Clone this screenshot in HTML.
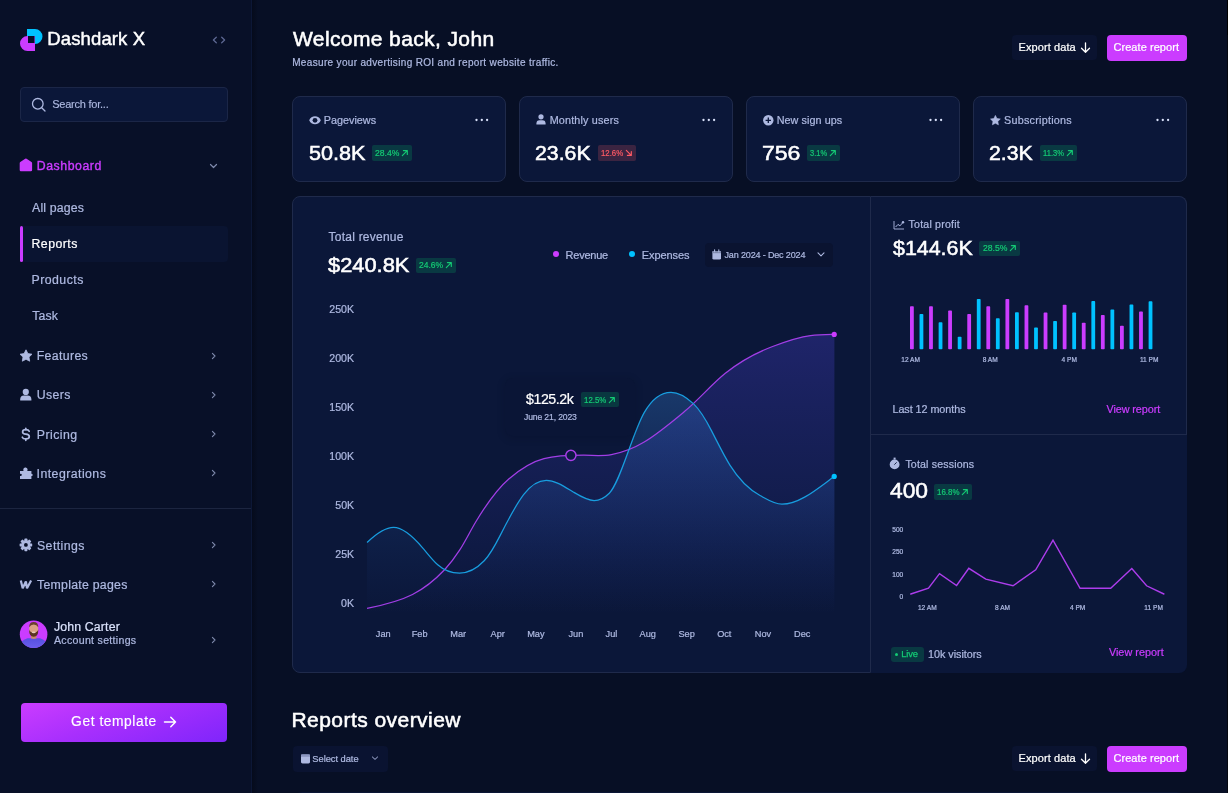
<!DOCTYPE html><html><head><meta charset="utf-8"><title>Dashdark X</title><style>
*{margin:0;padding:0;box-sizing:border-box}
html,body{width:1228px;height:793px;overflow:hidden;background:#081028}
body{position:relative;font-family:"Liberation Sans",sans-serif}
.t{position:absolute;white-space:nowrap;-webkit-text-stroke-width:0.22px}
.r{position:absolute;display:block}
#root{position:absolute;left:0;top:0;width:1228px;height:793px;will-change:transform}
</style></head><body><div id="root">
<div class="r" style="left:252px;top:0px;width:976px;height:793px;background:#070f25"></div>
<div class="r" style="left:252px;top:0px;width:6px;height:793px;background:linear-gradient(to right,rgba(3,6,16,0.45),rgba(3,6,16,0))"></div>
<div class="r" style="left:251px;top:0px;width:1.2px;height:793px;background:#0c1736"></div>
<svg class="r" style="left:18px;top:27px;" width="28" height="27" viewBox="0 0 28 27"><path d="M9,2 H17 A7.5,7.5 0 0 1 17,17 H9 Z" fill="#00C2FF"/><path d="M17,9 H9.5 A7.5,7.5 0 0 0 9.5,24 H17 Z" fill="#CB3CFF"/><rect x="10" y="9" width="6.5" height="7" fill="#081028"/></svg>
<div class="t " style="left:47.32px;top:27.00px;font-size:18.5px;line-height:23px;color:#fff;font-weight:400;letter-spacing:0.122px;-webkit-text-stroke:0.45px #fff;">Dashdark X</div>
<svg class="r" style="left:210px;top:35px;" width="18" height="10" viewBox="0 0 18 10"><path d="M6.3,2.3 L3.4,5 L6.3,7.7 M11.7,2.3 L14.6,5 L11.7,7.7" stroke="#5d6893" stroke-width="1.3" fill="none" stroke-linecap="round" stroke-linejoin="round"/></svg>
<div class="r" style="left:20px;top:87px;width:208px;height:35px;background:#0B1739;border:1px solid #1b2647;border-radius:4px"></div>
<svg class="r" style="left:31px;top:97px;" width="16" height="16" viewBox="0 0 16 16"><circle cx="6.8" cy="6.8" r="5.3" stroke="#AEB9E1" stroke-width="1.3" fill="none"/><path d="M10.7,10.7 L14,14" stroke="#AEB9E1" stroke-width="1.3" stroke-linecap="round"/></svg>
<div class="t " style="left:52.26px;top:97.00px;font-size:11px;line-height:14px;color:#AEB9E1;font-weight:400;letter-spacing:-0.238px;-webkit-text-stroke:0.15px #AEB9E1;">Search for...</div>
<svg class="r" style="left:19px;top:158px;" width="14" height="14" viewBox="0 0 14 14"><path d="M0.7,5.3 Q0.7,4.6 1.3,4.1 L6.2,0.7 Q6.9,0.2 7.6,0.7 L12.5,4.1 Q13.1,4.6 13.1,5.3 L13.1,12 Q13.1,13.2 11.9,13.2 L1.9,13.2 Q0.7,13.2 0.7,12 Z" fill="#CB3CFF"/></svg>
<div class="t " style="left:36.72px;top:158.50px;font-size:12.3px;line-height:15px;color:#CB3CFF;font-weight:400;letter-spacing:0.556px;-webkit-text-stroke:0.4px #CB3CFF;">Dashboard</div>
<svg class="r" style="left:208px;top:162px;" width="10" height="8" viewBox="0 0 10 8"><path d="M2.5,2.5 L5.5,5.5 L8.5,2.5" stroke="#7E89AC" stroke-width="1.2" fill="none" stroke-linecap="round" stroke-linejoin="round"/></svg>
<div class="t " style="left:32.10px;top:200.50px;font-size:12.3px;line-height:15px;color:#AEB9E1;font-weight:400;letter-spacing:0.139px;">All pages</div>
<div class="r" style="left:20px;top:226px;width:208px;height:36px;background:#0a1431;border-radius:4px"></div>
<div class="r" style="left:20px;top:226px;width:2.5px;height:36px;background:#CB3CFF;border-radius:2px"></div>
<div class="t " style="left:31.52px;top:236.50px;font-size:12.3px;line-height:15px;color:#fff;font-weight:400;letter-spacing:0.467px;">Reports</div>
<div class="t " style="left:31.52px;top:272.50px;font-size:12.3px;line-height:15px;color:#AEB9E1;font-weight:400;letter-spacing:0.467px;">Products</div>
<div class="t " style="left:32.25px;top:308.50px;font-size:12.3px;line-height:15px;color:#AEB9E1;font-weight:400;letter-spacing:0.128px;">Task</div>
<svg class="r" style="left:19px;top:348.8px;" width="14" height="14" viewBox="0 0 14 14"><path d="M7,0.8 L8.9,4.6 L13,5.2 L10,8.1 L10.7,12.2 L7,10.3 L3.3,12.2 L4,8.1 L1,5.2 L5.1,4.6 Z" fill="#AEB9E1" stroke="#AEB9E1" stroke-width="0.8" stroke-linejoin="round"/></svg>
<div class="t " style="left:36.72px;top:348.50px;font-size:12.3px;line-height:15px;color:#AEB9E1;font-weight:400;letter-spacing:0.353px;">Features</div>
<svg class="r" style="left:209.6px;top:350.8px;" width="8" height="10" viewBox="0 0 8 10"><path d="M2.4,2.4 L5,5 L2.4,7.6" stroke="#7E89AC" stroke-width="1.1" fill="none" stroke-linecap="round" stroke-linejoin="round"/></svg>
<svg class="r" style="left:19px;top:388px;" width="14" height="14" viewBox="0 0 14 14"><circle cx="6.8" cy="3.9" r="3.1" fill="#AEB9E1"/><path d="M1.2,11.5 Q1.2,7.6 5,7.6 L8.6,7.6 Q12.4,7.6 12.4,11.5 L12.4,12.6 L1.2,12.6 Z" fill="#AEB9E1"/></svg>
<div class="t " style="left:36.84px;top:387.50px;font-size:12.3px;line-height:15px;color:#AEB9E1;font-weight:400;letter-spacing:0.357px;">Users</div>
<svg class="r" style="left:209.6px;top:390px;" width="8" height="10" viewBox="0 0 8 10"><path d="M2.4,2.4 L5,5 L2.4,7.6" stroke="#7E89AC" stroke-width="1.1" fill="none" stroke-linecap="round" stroke-linejoin="round"/></svg>
<svg class="r" style="left:19px;top:427px;" width="14" height="15" viewBox="0 0 14 15"><path d="M10.2,4.3 Q9.6,2.6 6.8,2.6 Q3.6,2.6 3.6,4.9 Q3.6,6.8 6.8,7.1 Q10.3,7.4 10.3,9.7 Q10.3,11.9 6.8,11.9 Q4,11.9 3.3,10.2" stroke="#AEB9E1" stroke-width="1.7" fill="none" stroke-linecap="round"/><path d="M6.8,1.3 V2.6 M6.8,11.9 V13.3" stroke="#AEB9E1" stroke-width="1.7" stroke-linecap="round"/></svg>
<div class="t " style="left:36.72px;top:427.50px;font-size:12.3px;line-height:15px;color:#AEB9E1;font-weight:400;letter-spacing:0.481px;">Pricing</div>
<svg class="r" style="left:209.6px;top:429.3px;" width="8" height="10" viewBox="0 0 8 10"><path d="M2.4,2.4 L5,5 L2.4,7.6" stroke="#7E89AC" stroke-width="1.1" fill="none" stroke-linecap="round" stroke-linejoin="round"/></svg>
<svg class="r" style="left:19px;top:466px;" width="14" height="14" viewBox="0 0 14 14"><path d="M1,5 L4.5,5 Q4,3.6 4.6,2.6 Q5.5,1.4 6.8,1.6 Q8.5,2 8.6,3.5 Q8.6,4.3 8.2,5 L12.4,5 L12.4,8 Q13.2,7.6 13.6,8.4 Q14,9.4 13,10 Q12.6,10.1 12.4,10 L12.4,13 L1,13 L1,10 Q2.3,10.4 2.8,9.3 Q3,8.2 2,7.8 Q1.5,7.6 1,7.9 Z" fill="#AEB9E1"/></svg>
<div class="t " style="left:36.59px;top:466.50px;font-size:12.3px;line-height:15px;color:#AEB9E1;font-weight:400;letter-spacing:0.450px;">Integrations</div>
<svg class="r" style="left:209.6px;top:468.3px;" width="8" height="10" viewBox="0 0 8 10"><path d="M2.4,2.4 L5,5 L2.4,7.6" stroke="#7E89AC" stroke-width="1.1" fill="none" stroke-linecap="round" stroke-linejoin="round"/></svg>
<div class="r" style="left:0px;top:508px;width:251px;height:1px;background:#1c2540"></div>
<svg class="r" style="left:19px;top:538px;" width="14" height="14" viewBox="0 0 14 14"><path d="M6.8,0.6 L8.2,0.6 L8.6,2.3 Q9.4,2.6 10.1,3.1 L11.7,2.5 L12.4,3.7 L11.2,4.9 Q11.4,5.8 11.2,6.8 L12.5,8 L11.8,9.2 L10.1,8.7 Q9.4,9.3 8.6,9.6" fill="none"/><g transform="translate(6.9,6.9)"><circle r="4.6" fill="#AEB9E1"/><rect x="-1.5" y="-6.3" width="3" height="3" rx="0.6" fill="#AEB9E1" transform="rotate(0)"/><rect x="-1.5" y="-6.3" width="3" height="3" rx="0.6" fill="#AEB9E1" transform="rotate(45)"/><rect x="-1.5" y="-6.3" width="3" height="3" rx="0.6" fill="#AEB9E1" transform="rotate(90)"/><rect x="-1.5" y="-6.3" width="3" height="3" rx="0.6" fill="#AEB9E1" transform="rotate(135)"/><rect x="-1.5" y="-6.3" width="3" height="3" rx="0.6" fill="#AEB9E1" transform="rotate(180)"/><rect x="-1.5" y="-6.3" width="3" height="3" rx="0.6" fill="#AEB9E1" transform="rotate(225)"/><rect x="-1.5" y="-6.3" width="3" height="3" rx="0.6" fill="#AEB9E1" transform="rotate(270)"/><rect x="-1.5" y="-6.3" width="3" height="3" rx="0.6" fill="#AEB9E1" transform="rotate(315)"/><circle r="1.9" fill="#081028"/></g></svg>
<div class="t " style="left:37.01px;top:538.50px;font-size:12.3px;line-height:15px;color:#AEB9E1;font-weight:400;letter-spacing:0.423px;">Settings</div>
<svg class="r" style="left:209.6px;top:540px;" width="8" height="10" viewBox="0 0 8 10"><path d="M2.4,2.4 L5,5 L2.4,7.6" stroke="#7E89AC" stroke-width="1.1" fill="none" stroke-linecap="round" stroke-linejoin="round"/></svg>
<svg class="r" style="left:19px;top:579px;" width="14" height="11" viewBox="0 0 14 11"><path d="M1.8,1.6 L3.7,9.2 L6.9,2.4 L8,9.2 L12.1,1.6" stroke="#AEB9E1" stroke-width="2.2" fill="none" stroke-linejoin="bevel" stroke-linecap="butt"/></svg>
<div class="t " style="left:37.05px;top:577.50px;font-size:12.3px;line-height:15px;color:#AEB9E1;font-weight:400;letter-spacing:0.267px;">Template pages</div>
<svg class="r" style="left:209.6px;top:579px;" width="8" height="10" viewBox="0 0 8 10"><path d="M2.4,2.4 L5,5 L2.4,7.6" stroke="#7E89AC" stroke-width="1.1" fill="none" stroke-linecap="round" stroke-linejoin="round"/></svg>
<svg class="r" style="left:19px;top:620px;" width="30" height="30" viewBox="0 0 30 30"><defs><clipPath id="av"><circle cx="14.6" cy="14.2" r="13.8"/></clipPath><linearGradient id="sh" x1="0" y1="0" x2="0" y2="1"><stop offset="0" stop-color="#5750e0"/><stop offset="1" stop-color="#6d62f0"/></linearGradient></defs><circle cx="14.6" cy="14.2" r="13.8" fill="#CB3CFF"/><g clip-path="url(#av)"><path d="M-1,30 L0.5,24.5 Q2,20.6 8.5,18.3 L21,18.3 Q27.4,20.6 28.8,24.5 L30.5,30 Z" fill="url(#sh)"/><path d="M12.2,13.5 L17.2,13.5 L17.6,18.3 Q14.7,19.6 11.8,18.3 Z" fill="#c58a6d"/><ellipse cx="14.7" cy="9.3" rx="4.5" ry="6.4" fill="#d9a285"/><path d="M10.1,9.3 Q9.9,16.8 14.7,16.8 Q19.5,16.8 19.3,9.3 Q18.6,12.6 14.7,12.9 Q10.8,12.6 10.1,9.3 Z" fill="#5b3322"/><ellipse cx="14.7" cy="12.4" rx="1.9" ry="0.8" fill="#e6c9b8"/><path d="M10.1,7.2 Q10.1,1.9 14.7,1.9 Q19.3,1.9 19.3,7.2 Q17.6,4.6 14.7,4.6 Q11.8,4.6 10.1,7.2 Z" fill="#6b4030"/></g></svg>
<div class="t " style="left:53.88px;top:619.50px;font-size:12.3px;line-height:15px;color:#D9E1FA;font-weight:400;letter-spacing:0.164px;">John Carter</div>
<div class="t " style="left:54.00px;top:633.50px;font-size:10.6px;line-height:13px;color:#AEB9E1;font-weight:400;letter-spacing:0.294px;">Account settings</div>
<svg class="r" style="left:209.6px;top:635px;" width="8" height="10" viewBox="0 0 8 10"><path d="M2.4,2.4 L5,5 L2.4,7.6" stroke="#7E89AC" stroke-width="1.1" fill="none" stroke-linecap="round" stroke-linejoin="round"/></svg>
<div class="r" style="left:21px;top:703px;width:206px;height:39px;border-radius:4px;background:linear-gradient(160deg,#CB3CFF 0%,#a82ffd 45%,#7F25FB 100%)"></div>
<div class="t " style="left:71.11px;top:713.00px;font-size:13.8px;line-height:17px;color:#fff;font-weight:400;letter-spacing:0.561px;-webkit-text-stroke:0.15px #fff;">Get template</div>
<svg class="r" style="left:162px;top:715px;" width="16" height="14" viewBox="0 0 16 14"><path d="M2.5,7 H13.5 M8.8,2.3 L13.5,7 L8.8,11.7" stroke="#fff" stroke-width="1.5" fill="none" stroke-linecap="round" stroke-linejoin="round"/></svg>
<div class="t " style="left:293.00px;top:25.50px;font-size:21px;line-height:26px;color:#fff;font-weight:400;letter-spacing:0.388px;-webkit-text-stroke:0.55px #fff;">Welcome back, John</div>
<div class="t " style="left:292.20px;top:56.50px;font-size:10px;line-height:12px;color:#AEB9E1;font-weight:400;letter-spacing:0.336px;">Measure your advertising ROI and report website traffic.</div>
<div class="r" style="left:1012px;top:35px;width:85px;height:25px;background:#0A1330;border-radius:4px"></div>
<div class="t " style="left:1018.62px;top:40.00px;font-size:11px;line-height:14px;color:#fff;font-weight:400;letter-spacing:0.076px;">Export data</div>
<svg class="r" style="left:1080px;top:42px;" width="12" height="12" viewBox="0 0 12 12"><path d="M5.5,0.8 V10 M1.5,6.2 L5.5,10.2 L9.5,6.2" stroke="#fff" stroke-width="1.3" fill="none" stroke-linecap="round" stroke-linejoin="round"/></svg>
<div class="r" style="left:1107px;top:35px;width:80px;height:25.5px;background:#CB3CFF;border-radius:4px"></div>
<div class="t " style="left:1113.45px;top:40.00px;font-size:11px;line-height:14px;color:#fff;font-weight:400;letter-spacing:0.063px;">Create report</div>
<div class="r" style="left:292px;top:96px;width:214px;height:86px;background:#0B1739;border:1px solid #1f2a4b;border-radius:8px"></div>
<svg class="r" style="left:309px;top:115.6px;" width="12" height="11" viewBox="0 0 12 11"><path d="M0.2,4.3 C2,-1.1 10,-1.1 11.8,4.3 C10,9.7 2,9.7 0.2,4.3 Z" fill="#AEB9E1"/><circle cx="6" cy="4.3" r="2.4" fill="#0B1739"/></svg>
<div class="t " style="left:323.84px;top:113.50px;font-size:10.8px;line-height:13px;color:#AEB9E1;font-weight:400;">Pageviews</div>
<div class="t " style="left:309.16px;top:139.50px;font-size:21px;line-height:26px;color:#fff;font-weight:400;transform:scaleX(1.0283);transform-origin:0.84px 0;-webkit-text-stroke:0.55px #fff;">50.8K</div>
<div class="r" style="left:371.5px;top:145.2px;width:40.5px;height:15.5px;background:rgba(5,193,104,0.2);border-radius:2px"></div>
<div class="t " style="left:375.09px;top:148.50px;font-size:8.2px;line-height:10px;color:#14CA74;font-weight:400;transform:scaleX(1.0472);transform-origin:0.41px 0;-webkit-text-stroke:0.2px #14CA74;">28.4%</div>
<svg class="r" style="left:401.0px;top:148.75px;" width="8" height="8" viewBox="0 0 8 8"><path d="M1.3,6.6 L6.2,1.7 M2.4,1.6 H6.3 V5.5" stroke="#14CA74" stroke-width="1.15" fill="none" stroke-linecap="round" stroke-linejoin="round"/></svg>
<svg class="r" style="left:475.0px;top:117.5px;" width="14" height="4" viewBox="0 0 14 4"><circle cx="1.5" cy="2" r="1.15" fill="#D9E1FA"/><circle cx="6.8" cy="2" r="1.15" fill="#D9E1FA"/><circle cx="12.1" cy="2" r="1.15" fill="#D9E1FA"/></svg>
<div class="r" style="left:519px;top:96px;width:214px;height:86px;background:#0B1739;border:1px solid #1f2a4b;border-radius:8px"></div>
<svg class="r" style="left:536px;top:114px;" width="12" height="11" viewBox="0 0 12 11"><circle cx="5" cy="2.8" r="2.6" fill="#AEB9E1"/><path d="M0.4,9.6 Q0.4,6.2 3.6,6.2 L6.4,6.2 Q9.6,6.2 9.6,9.6 L9.6,10.4 L0.4,10.4 Z" fill="#AEB9E1"/></svg>
<div class="t " style="left:549.64px;top:113.50px;font-size:10.8px;line-height:13px;color:#AEB9E1;font-weight:400;letter-spacing:0.168px;">Monthly users</div>
<div class="t " style="left:535.45px;top:139.50px;font-size:21px;line-height:26px;color:#fff;font-weight:400;transform:scaleX(1.0138);transform-origin:1.05px 0;-webkit-text-stroke:0.55px #fff;">23.6K</div>
<div class="r" style="left:597.5px;top:145.2px;width:38.2px;height:15.5px;background:rgba(255,90,101,0.2);border-radius:2px"></div>
<div class="t " style="left:600.93px;top:148.50px;font-size:8.2px;line-height:10px;color:#FF5A65;font-weight:400;transform:scaleX(0.9525);transform-origin:0.57px 0;-webkit-text-stroke:0.2px #FF5A65;">12.6%</div>
<svg class="r" style="left:624.7px;top:149.14999999999998px;" width="8" height="8" viewBox="0 0 8 8"><path d="M1.3,1.4 L6.2,6.3 M2.4,6.4 H6.3 V2.5" stroke="#FF5A65" stroke-width="1.15" fill="none" stroke-linecap="round" stroke-linejoin="round"/></svg>
<svg class="r" style="left:702.0px;top:117.5px;" width="14" height="4" viewBox="0 0 14 4"><circle cx="1.5" cy="2" r="1.15" fill="#D9E1FA"/><circle cx="6.8" cy="2" r="1.15" fill="#D9E1FA"/><circle cx="12.1" cy="2" r="1.15" fill="#D9E1FA"/></svg>
<div class="r" style="left:746px;top:96px;width:214px;height:86px;background:#0B1739;border:1px solid #1f2a4b;border-radius:8px"></div>
<svg class="r" style="left:762.5px;top:114.7px;" width="12" height="11" viewBox="0 0 12 11"><circle cx="5.3" cy="5.3" r="5.2" fill="#AEB9E1"/><path d="M5.3,2.6 V8 M2.6,5.3 H8" stroke="#0B1739" stroke-width="1.3"/></svg>
<div class="t " style="left:776.64px;top:113.50px;font-size:10.8px;line-height:13px;color:#AEB9E1;font-weight:400;letter-spacing:0.072px;">New sign ups</div>
<div class="t " style="left:762.45px;top:139.50px;font-size:21px;line-height:26px;color:#fff;font-weight:400;transform:scaleX(1.1001);transform-origin:1.05px 0;-webkit-text-stroke:0.55px #fff;">756</div>
<div class="r" style="left:806.5px;top:145.2px;width:33.4px;height:15.5px;background:rgba(5,193,104,0.2);border-radius:2px"></div>
<div class="t " style="left:810.25px;top:148.50px;font-size:8.2px;line-height:10px;color:#14CA74;font-weight:400;transform:scaleX(0.9119);transform-origin:0.25px 0;-webkit-text-stroke:0.2px #14CA74;">3.1%</div>
<svg class="r" style="left:828.9px;top:148.75px;" width="8" height="8" viewBox="0 0 8 8"><path d="M1.3,6.6 L6.2,1.7 M2.4,1.6 H6.3 V5.5" stroke="#14CA74" stroke-width="1.15" fill="none" stroke-linecap="round" stroke-linejoin="round"/></svg>
<svg class="r" style="left:929.0px;top:117.5px;" width="14" height="4" viewBox="0 0 14 4"><circle cx="1.5" cy="2" r="1.15" fill="#D9E1FA"/><circle cx="6.8" cy="2" r="1.15" fill="#D9E1FA"/><circle cx="12.1" cy="2" r="1.15" fill="#D9E1FA"/></svg>
<div class="r" style="left:973px;top:96px;width:214px;height:86px;background:#0B1739;border:1px solid #1f2a4b;border-radius:8px"></div>
<svg class="r" style="left:989.7px;top:115px;" width="12" height="11" viewBox="0 0 12 11"><path d="M5.4,0.4 L6.9,3.5 L10.3,4 L7.8,6.4 L8.4,9.8 L5.4,8.2 L2.4,9.8 L3,6.4 L0.5,4 L3.9,3.5 Z" fill="#AEB9E1" stroke="#AEB9E1" stroke-width="0.6" stroke-linejoin="round"/></svg>
<div class="t " style="left:1004.07px;top:113.50px;font-size:10.8px;line-height:13px;color:#AEB9E1;font-weight:400;letter-spacing:0.230px;">Subscriptions</div>
<div class="t " style="left:989.45px;top:139.50px;font-size:21px;line-height:26px;color:#fff;font-weight:400;transform:scaleX(1.0119);transform-origin:1.05px 0;-webkit-text-stroke:0.55px #fff;">2.3K</div>
<div class="r" style="left:1039.5px;top:145.2px;width:37px;height:15.5px;background:rgba(5,193,104,0.2);border-radius:2px"></div>
<div class="t " style="left:1042.93px;top:148.50px;font-size:8.2px;line-height:10px;color:#14CA74;font-weight:400;transform:scaleX(0.9261);transform-origin:0.57px 0;-webkit-text-stroke:0.2px #14CA74;">11.3%</div>
<svg class="r" style="left:1065.5px;top:148.75px;" width="8" height="8" viewBox="0 0 8 8"><path d="M1.3,6.6 L6.2,1.7 M2.4,1.6 H6.3 V5.5" stroke="#14CA74" stroke-width="1.15" fill="none" stroke-linecap="round" stroke-linejoin="round"/></svg>
<svg class="r" style="left:1156.0px;top:117.5px;" width="14" height="4" viewBox="0 0 14 4"><circle cx="1.5" cy="2" r="1.15" fill="#D9E1FA"/><circle cx="6.8" cy="2" r="1.15" fill="#D9E1FA"/><circle cx="12.1" cy="2" r="1.15" fill="#D9E1FA"/></svg>
<div class="r" style="left:292px;top:196px;width:579px;height:477px;background:#0B1739;border:1px solid #1f2a4b;border-right:1px solid #1f2a4b;border-radius:8px 0 0 8px"></div>
<div class="r" style="left:871px;top:196px;width:316px;height:239px;background:#0B1739;border:1px solid #1f2a4b;border-left:none;border-radius:0 8px 0 0"></div>
<div class="r" style="left:871px;top:435px;width:316px;height:238px;background:#0B1739;border-radius:0 0 8px 0"></div>
<div class="t " style="left:328.56px;top:229.50px;font-size:12px;line-height:15px;color:#AEB9E1;font-weight:400;letter-spacing:0.233px;">Total revenue</div>
<div class="t " style="left:327.79px;top:251.50px;font-size:21px;line-height:26px;color:#fff;font-weight:400;transform:scaleX(1.0397);transform-origin:0.21px 0;-webkit-text-stroke:0.55px #fff;">$240.8K</div>
<div class="r" style="left:415.5px;top:257.7px;width:40.3px;height:15.2px;background:rgba(5,193,104,0.2);border-radius:2px"></div>
<div class="t " style="left:419.09px;top:260.50px;font-size:8.2px;line-height:10px;color:#14CA74;font-weight:400;transform:scaleX(1.0384);transform-origin:0.41px 0;-webkit-text-stroke:0.2px #14CA74;">24.6%</div>
<svg class="r" style="left:444.8px;top:261.1px;" width="8" height="8" viewBox="0 0 8 8"><path d="M1.3,6.6 L6.2,1.7 M2.4,1.6 H6.3 V5.5" stroke="#14CA74" stroke-width="1.15" fill="none" stroke-linecap="round" stroke-linejoin="round"/></svg>
<svg class="r" style="left:552px;top:250px;" width="8" height="8" viewBox="0 0 8 8"><circle cx="4" cy="4" r="3" fill="#CB3CFF"/></svg>
<div class="t " style="left:565.62px;top:248.00px;font-size:11px;line-height:14px;color:#AEB9E1;font-weight:400;letter-spacing:-0.248px;">Revenue</div>
<svg class="r" style="left:628px;top:250px;" width="8" height="8" viewBox="0 0 8 8"><circle cx="4" cy="4" r="3" fill="#00C2FF"/></svg>
<div class="t " style="left:641.82px;top:248.00px;font-size:11px;line-height:14px;color:#AEB9E1;font-weight:400;letter-spacing:-0.097px;">Expenses</div>
<div class="r" style="left:705px;top:243px;width:128px;height:24px;background:#0A1330;border-radius:4px"></div>
<svg class="r" style="left:711px;top:249px;" width="12" height="12" viewBox="0 0 12 12"><rect x="1.4" y="2" width="8.6" height="8.6" rx="1.4" fill="#AEB9E1"/><rect x="1.4" y="2" width="8.6" height="2.2" fill="#7E89AC"/><path d="M3.6,0.8 V2.8 M7.8,0.8 V2.8" stroke="#AEB9E1" stroke-width="1.1" stroke-linecap="round"/></svg>
<div class="t " style="left:724.51px;top:249.50px;font-size:9px;line-height:11px;color:#AEB9E1;font-weight:400;letter-spacing:-0.147px;">Jan 2024 - Dec 2024</div>
<svg class="r" style="left:816px;top:251px;" width="10" height="7" viewBox="0 0 10 7"><path d="M2,1.8 L5,4.8 L8,1.8" stroke="#AEB9E1" stroke-width="1.1" fill="none" stroke-linecap="round" stroke-linejoin="round"/></svg>
<div class="t " style="left:329.30px;top:302.50px;font-size:10.6px;line-height:13px;color:#AEB9E1;font-weight:400;">250K</div>
<div class="t " style="left:329.30px;top:351.50px;font-size:10.6px;line-height:13px;color:#AEB9E1;font-weight:400;">200K</div>
<div class="t " style="left:329.30px;top:400.50px;font-size:10.6px;line-height:13px;color:#AEB9E1;font-weight:400;">150K</div>
<div class="t " style="left:329.30px;top:449.50px;font-size:10.6px;line-height:13px;color:#AEB9E1;font-weight:400;">100K</div>
<div class="t " style="left:335.24px;top:498.50px;font-size:10.6px;line-height:13px;color:#AEB9E1;font-weight:400;">50K</div>
<div class="t " style="left:335.24px;top:547.50px;font-size:10.6px;line-height:13px;color:#AEB9E1;font-weight:400;">25K</div>
<div class="t " style="left:341.07px;top:596.50px;font-size:10.6px;line-height:13px;color:#AEB9E1;font-weight:400;">0K</div>
<div class="t " style="left:375.81px;top:628.00px;font-size:9.2px;line-height:12px;color:#AEB9E1;font-weight:400;">Jan</div>
<div class="t " style="left:411.76px;top:628.00px;font-size:9.2px;line-height:12px;color:#AEB9E1;font-weight:400;">Feb</div>
<div class="t " style="left:450.26px;top:628.00px;font-size:9.2px;line-height:12px;color:#AEB9E1;font-weight:400;">Mar</div>
<div class="t " style="left:490.60px;top:628.00px;font-size:9.2px;line-height:12px;color:#AEB9E1;font-weight:400;">Apr</div>
<div class="t " style="left:527.16px;top:628.00px;font-size:9.2px;line-height:12px;color:#AEB9E1;font-weight:400;">May</div>
<div class="t " style="left:568.51px;top:628.00px;font-size:9.2px;line-height:12px;color:#AEB9E1;font-weight:400;">Jun</div>
<div class="t " style="left:605.61px;top:628.00px;font-size:9.2px;line-height:12px;color:#AEB9E1;font-weight:400;">Jul</div>
<div class="t " style="left:639.60px;top:628.00px;font-size:9.2px;line-height:12px;color:#AEB9E1;font-weight:400;">Aug</div>
<div class="t " style="left:678.43px;top:628.00px;font-size:9.2px;line-height:12px;color:#AEB9E1;font-weight:400;">Sep</div>
<div class="t " style="left:717.13px;top:628.00px;font-size:9.2px;line-height:12px;color:#AEB9E1;font-weight:400;">Oct</div>
<div class="t " style="left:754.86px;top:628.00px;font-size:9.2px;line-height:12px;color:#AEB9E1;font-weight:400;">Nov</div>
<div class="t " style="left:794.06px;top:628.00px;font-size:9.2px;line-height:12px;color:#AEB9E1;font-weight:400;">Dec</div>
<svg class="r" style="left:360px;top:320px;" width="490" height="300" viewBox="0 0 490 300"><defs>
<linearGradient id="gr" x1="0" y1="14" x2="0" y2="294" gradientUnits="userSpaceOnUse"><stop offset="0" stop-color="#5548ee" stop-opacity="0.27"/><stop offset="0.55" stop-color="#4644d8" stop-opacity="0.14"/><stop offset="1" stop-color="#3a3ad0" stop-opacity="0.0"/></linearGradient>
<linearGradient id="ge" x1="0" y1="72" x2="0" y2="294" gradientUnits="userSpaceOnUse"><stop offset="0" stop-color="#3a86dc" stop-opacity="0.30"/><stop offset="0.55" stop-color="#2f6cc8" stop-opacity="0.14"/><stop offset="1" stop-color="#2050b0" stop-opacity="0.0"/></linearGradient>
</defs>
<path d="M7.05,288.40 C22.20,285.37 37.35,282.23 52.50,274.50 C63.27,269.01 74.03,260.91 84.80,249.50 C89.73,244.27 94.67,237.85 99.60,230.20 C105.07,221.73 110.53,210.57 116.00,201.50 C126.93,183.35 137.87,168.19 148.80,158.90 C160.53,148.93 172.27,141.53 184.00,138.60 C197.27,135.28 210.53,135.20 223.80,135.20 C233.00,135.20 242.20,136.35 251.40,134.60 C262.33,132.52 273.27,128.56 284.20,122.00 C297.80,113.84 311.40,102.39 325.00,91.10 C338.43,79.95 351.87,64.05 365.30,53.30 C381.07,40.69 396.83,32.49 412.60,26.50 C425.23,21.70 437.87,17.12 450.50,15.60 C458.47,14.64 466.43,14.56 474.40,14.40 L474.40,294 L7.05,294 Z" fill="url(#gr)"/>
<path d="M7.05,222.50 C15.90,214.09 24.75,207.40 33.60,207.40 C43.27,207.40 52.93,216.49 62.60,227.80 C67.63,233.69 72.67,240.27 77.70,244.80 C85.00,251.37 92.30,253.10 99.60,253.10 C107.80,253.10 116.00,249.41 124.20,240.80 C129.67,235.06 135.13,225.42 140.60,214.60 C148.27,199.42 155.93,184.97 163.60,174.70 C171.17,164.56 178.73,160.30 186.30,160.30 C195.40,160.30 204.50,166.74 213.60,172.20 C220.47,176.32 227.33,180.50 234.20,180.50 C239.23,180.50 244.27,178.23 249.30,173.20 C255.47,167.03 261.63,149.76 267.80,132.80 C273.27,117.77 278.73,102.17 284.20,92.60 C293.13,76.97 302.07,72.30 311.00,72.30 C318.53,72.30 326.07,76.74 333.60,83.90 C339.63,89.63 345.67,99.34 351.70,111.10 C357.77,122.93 363.83,135.39 369.90,145.10 C379.93,161.15 389.97,169.98 400.00,175.50 C407.33,179.53 414.67,184.20 422.00,184.20 C439.47,184.20 456.93,169.05 474.40,156.30 L474.40,294 L7.05,294 Z" fill="url(#ge)"/>
<path d="M7.05,288.40 C22.20,285.37 37.35,282.23 52.50,274.50 C63.27,269.01 74.03,260.91 84.80,249.50 C89.73,244.27 94.67,237.85 99.60,230.20 C105.07,221.73 110.53,210.57 116.00,201.50 C126.93,183.35 137.87,168.19 148.80,158.90 C160.53,148.93 172.27,141.53 184.00,138.60 C197.27,135.28 210.53,135.20 223.80,135.20 C233.00,135.20 242.20,136.35 251.40,134.60 C262.33,132.52 273.27,128.56 284.20,122.00 C297.80,113.84 311.40,102.39 325.00,91.10 C338.43,79.95 351.87,64.05 365.30,53.30 C381.07,40.69 396.83,32.49 412.60,26.50 C425.23,21.70 437.87,17.12 450.50,15.60 C458.47,14.64 466.43,14.56 474.40,14.40" stroke="#a23ee6" stroke-width="1.25" fill="none" stroke-linejoin="round"/>
<path d="M7.05,222.50 C15.90,214.09 24.75,207.40 33.60,207.40 C43.27,207.40 52.93,216.49 62.60,227.80 C67.63,233.69 72.67,240.27 77.70,244.80 C85.00,251.37 92.30,253.10 99.60,253.10 C107.80,253.10 116.00,249.41 124.20,240.80 C129.67,235.06 135.13,225.42 140.60,214.60 C148.27,199.42 155.93,184.97 163.60,174.70 C171.17,164.56 178.73,160.30 186.30,160.30 C195.40,160.30 204.50,166.74 213.60,172.20 C220.47,176.32 227.33,180.50 234.20,180.50 C239.23,180.50 244.27,178.23 249.30,173.20 C255.47,167.03 261.63,149.76 267.80,132.80 C273.27,117.77 278.73,102.17 284.20,92.60 C293.13,76.97 302.07,72.30 311.00,72.30 C318.53,72.30 326.07,76.74 333.60,83.90 C339.63,89.63 345.67,99.34 351.70,111.10 C357.77,122.93 363.83,135.39 369.90,145.10 C379.93,161.15 389.97,169.98 400.00,175.50 C407.33,179.53 414.67,184.20 422.00,184.20 C439.47,184.20 456.93,169.05 474.40,156.30" stroke="#189ddf" stroke-width="1.25" fill="none" stroke-linejoin="round"/>
<circle cx="210.89999999999998" cy="135.33" r="5.1" fill="#0e1a45" stroke="#a93ee8" stroke-width="1.5"/>
<circle cx="474.20000000000005" cy="14.40" r="2.6" fill="#CB3CFF"/>
<circle cx="474.20000000000005" cy="156.45" r="2.6" fill="#00C2FF"/>
</svg>
<div class="r" style="left:505px;top:378px;width:130px;height:58px;background:rgba(9,19,50,0.4);border-radius:8px;box-shadow:0 2px 8px rgba(4,8,24,0.18)"></div>
<div class="t " style="left:525.96px;top:390.00px;font-size:14.2px;line-height:18px;color:#fff;font-weight:400;letter-spacing:-0.425px;">$125.2k</div>
<div class="r" style="left:580.6px;top:392.2px;width:38.4px;height:15.1px;background:rgba(5,193,104,0.2);border-radius:2px"></div>
<div class="t " style="left:584.03px;top:395.50px;font-size:8.2px;line-height:10px;color:#14CA74;font-weight:400;transform:scaleX(0.9614);transform-origin:0.57px 0;-webkit-text-stroke:0.2px #14CA74;">12.5%</div>
<svg class="r" style="left:608.0px;top:395.55px;" width="8" height="8" viewBox="0 0 8 8"><path d="M1.3,6.6 L6.2,1.7 M2.4,1.6 H6.3 V5.5" stroke="#14CA74" stroke-width="1.15" fill="none" stroke-linecap="round" stroke-linejoin="round"/></svg>
<div class="t " style="left:524.01px;top:411.50px;font-size:8.6px;line-height:11px;color:#AEB9E1;font-weight:400;letter-spacing:-0.133px;">June 21, 2023</div>
<svg class="r" style="left:892.5px;top:219.5px;" width="12" height="11" viewBox="0 0 12 11"><path d="M1,1 V9 H11" stroke="#AEB9E1" stroke-width="0.9" fill="none"/><path d="M2.6,7 L5,4.4 L6.9,5.9 L9.8,2.6" stroke="#AEB9E1" stroke-width="1" fill="none" stroke-linejoin="round"/><circle cx="10" cy="2.3" r="1.2" fill="#AEB9E1"/></svg>
<div class="t " style="left:908.59px;top:217.50px;font-size:10.6px;line-height:13px;color:#AEB9E1;font-weight:400;letter-spacing:0.204px;">Total profit</div>
<div class="t " style="left:893.09px;top:234.50px;font-size:21px;line-height:26px;color:#fff;font-weight:400;transform:scaleX(1.0191);transform-origin:0.21px 0;-webkit-text-stroke:0.55px #fff;">$144.6K</div>
<div class="r" style="left:979px;top:240.5px;width:40.6px;height:15.3px;background:rgba(5,193,104,0.2);border-radius:2px"></div>
<div class="t " style="left:982.59px;top:243.50px;font-size:8.2px;line-height:10px;color:#14CA74;font-weight:400;transform:scaleX(1.0516);transform-origin:0.41px 0;-webkit-text-stroke:0.2px #14CA74;">28.5%</div>
<svg class="r" style="left:1008.6px;top:243.95000000000002px;" width="8" height="8" viewBox="0 0 8 8"><path d="M1.3,6.6 L6.2,1.7 M2.4,1.6 H6.3 V5.5" stroke="#14CA74" stroke-width="1.15" fill="none" stroke-linecap="round" stroke-linejoin="round"/></svg>
<svg class="r" style="left:892px;top:292px;" width="280" height="60" viewBox="0 0 280 60"><rect x="18.00" y="14.20" width="3.8" height="43.00" rx="0.8" fill="#CB3CFF"/><rect x="27.54" y="22.00" width="3.8" height="35.20" rx="0.8" fill="#00C2FF"/><rect x="37.09" y="14.20" width="3.8" height="43.00" rx="0.8" fill="#CB3CFF"/><rect x="46.63" y="30.30" width="3.8" height="26.90" rx="0.8" fill="#00C2FF"/><rect x="56.18" y="18.50" width="3.8" height="38.70" rx="0.8" fill="#CB3CFF"/><rect x="65.73" y="44.70" width="3.8" height="12.50" rx="0.8" fill="#00C2FF"/><rect x="75.27" y="22.00" width="3.8" height="35.20" rx="0.8" fill="#CB3CFF"/><rect x="84.82" y="6.90" width="3.8" height="50.30" rx="0.8" fill="#00C2FF"/><rect x="94.36" y="14.20" width="3.8" height="43.00" rx="0.8" fill="#CB3CFF"/><rect x="103.90" y="26.30" width="3.8" height="30.90" rx="0.8" fill="#00C2FF"/><rect x="113.45" y="6.90" width="3.8" height="50.30" rx="0.8" fill="#CB3CFF"/><rect x="123.00" y="20.20" width="3.8" height="37.00" rx="0.8" fill="#00C2FF"/><rect x="132.54" y="13.20" width="3.8" height="44.00" rx="0.8" fill="#CB3CFF"/><rect x="142.09" y="35.40" width="3.8" height="21.80" rx="0.8" fill="#00C2FF"/><rect x="151.63" y="20.60" width="3.8" height="36.60" rx="0.8" fill="#CB3CFF"/><rect x="161.17" y="29.00" width="3.8" height="28.20" rx="0.8" fill="#00C2FF"/><rect x="170.72" y="12.80" width="3.8" height="44.40" rx="0.8" fill="#CB3CFF"/><rect x="180.26" y="20.50" width="3.8" height="36.70" rx="0.8" fill="#00C2FF"/><rect x="189.81" y="30.80" width="3.8" height="26.40" rx="0.8" fill="#CB3CFF"/><rect x="199.36" y="9.10" width="3.8" height="48.10" rx="0.8" fill="#00C2FF"/><rect x="208.90" y="22.90" width="3.8" height="34.30" rx="0.8" fill="#CB3CFF"/><rect x="218.44" y="17.60" width="3.8" height="39.60" rx="0.8" fill="#00C2FF"/><rect x="227.99" y="33.70" width="3.8" height="23.50" rx="0.8" fill="#CB3CFF"/><rect x="237.54" y="12.60" width="3.8" height="44.60" rx="0.8" fill="#00C2FF"/><rect x="247.08" y="19.40" width="3.8" height="37.80" rx="0.8" fill="#CB3CFF"/><rect x="256.62" y="9.20" width="3.8" height="48.00" rx="0.8" fill="#00C2FF"/></svg>
<div class="t " style="left:901.24px;top:355.50px;font-size:6.6px;line-height:8px;color:#AEB9E1;font-weight:400;">12 AM</div>
<div class="t " style="left:982.74px;top:355.50px;font-size:6.6px;line-height:8px;color:#AEB9E1;font-weight:400;">8 AM</div>
<div class="t " style="left:1061.57px;top:355.50px;font-size:6.6px;line-height:8px;color:#AEB9E1;font-weight:400;">4 PM</div>
<div class="t " style="left:1139.94px;top:355.50px;font-size:6.6px;line-height:8px;color:#AEB9E1;font-weight:400;">11 PM</div>
<div class="t " style="left:892.44px;top:402.50px;font-size:10.8px;line-height:13px;color:#AEB9E1;font-weight:400;letter-spacing:-0.053px;">Last 12 months</div>
<div class="t " style="left:1106.50px;top:402.50px;font-size:10.8px;line-height:13px;color:#CB3CFF;font-weight:400;letter-spacing:-0.073px;">View report</div>
<svg class="r" style="left:889px;top:457px;" width="12" height="13" viewBox="0 0 12 13"><circle cx="5.6" cy="7.4" r="4.9" fill="#AEB9E1"/><rect x="4.6" y="0.6" width="2" height="2" fill="#AEB9E1"/><path d="M5.6,7.4 L7.4,5.6" stroke="#0B1739" stroke-width="0.9" stroke-linecap="round"/></svg>
<div class="t " style="left:905.39px;top:457.50px;font-size:10.6px;line-height:13px;color:#AEB9E1;font-weight:400;letter-spacing:0.166px;">Total sessions</div>
<div class="t " style="left:890.27px;top:478.00px;font-size:21.5px;line-height:26px;color:#fff;font-weight:400;transform:scaleX(1.0602);transform-origin:0.43px 0;-webkit-text-stroke:0.55px #fff;">400</div>
<div class="r" style="left:933.7px;top:484px;width:38.5px;height:15.5px;background:rgba(5,193,104,0.2);border-radius:2px"></div>
<div class="t " style="left:937.13px;top:487.50px;font-size:8.2px;line-height:10px;color:#14CA74;font-weight:400;transform:scaleX(0.9658);transform-origin:0.57px 0;-webkit-text-stroke:0.2px #14CA74;">16.8%</div>
<svg class="r" style="left:961.2px;top:487.55px;" width="8" height="8" viewBox="0 0 8 8"><path d="M1.3,6.6 L6.2,1.7 M2.4,1.6 H6.3 V5.5" stroke="#14CA74" stroke-width="1.15" fill="none" stroke-linecap="round" stroke-linejoin="round"/></svg>
<div class="t " style="left:892.24px;top:525.50px;font-size:6.6px;line-height:8px;color:#AEB9E1;font-weight:400;">500</div>
<div class="t " style="left:892.24px;top:547.50px;font-size:6.6px;line-height:8px;color:#AEB9E1;font-weight:400;">250</div>
<div class="t " style="left:892.24px;top:570.50px;font-size:6.6px;line-height:8px;color:#AEB9E1;font-weight:400;">100</div>
<div class="t " style="left:899.57px;top:592.50px;font-size:6.6px;line-height:8px;color:#AEB9E1;font-weight:400;">0</div>
<svg class="r" style="left:900px;top:530px;" width="275" height="70" viewBox="0 0 275 70"><polyline points="10.8,64.0 28.5,58.1 39.5,43.6 56.6,55.5 68.8,38.3 85.8,49.2 113.0,55.8 135.7,39.8 153.0,10.2 180.1,58.3 210.7,58.3 231.8,38.5 246.6,55.8 263.9,64.0" stroke="#ad3dec" stroke-width="1.4" fill="none" stroke-linejoin="miter" stroke-linecap="round"/></svg>
<div class="t " style="left:917.94px;top:603.50px;font-size:6.6px;line-height:8px;color:#AEB9E1;font-weight:400;">12 AM</div>
<div class="t " style="left:995.04px;top:603.50px;font-size:6.6px;line-height:8px;color:#AEB9E1;font-weight:400;">8 AM</div>
<div class="t " style="left:1069.97px;top:603.50px;font-size:6.6px;line-height:8px;color:#AEB9E1;font-weight:400;">4 PM</div>
<div class="t " style="left:1144.34px;top:603.50px;font-size:6.6px;line-height:8px;color:#AEB9E1;font-weight:400;">11 PM</div>
<div class="r" style="left:891px;top:646.6px;width:32.6px;height:15.2px;background:rgba(5,193,104,0.2);border-radius:3px"></div>
<svg class="r" style="left:894px;top:652px;" width="5" height="5" viewBox="0 0 5 5"><circle cx="2.5" cy="2.5" r="1.5" fill="#14CA74"/></svg>
<div class="t " style="left:901.25px;top:647.50px;font-size:9.4px;line-height:12px;color:#14CA74;font-weight:400;letter-spacing:-0.189px;-webkit-text-stroke:0.25px #14CA74;">Live</div>
<div class="t " style="left:927.94px;top:647.50px;font-size:10.8px;line-height:13px;color:#AEB9E1;font-weight:400;letter-spacing:-0.020px;">10k visitors</div>
<div class="t " style="left:1108.90px;top:645.50px;font-size:10.8px;line-height:13px;color:#CB3CFF;font-weight:400;letter-spacing:0.037px;">View report</div>
<div class="t " style="left:291.42px;top:706.50px;font-size:21px;line-height:26px;color:#fff;font-weight:400;letter-spacing:0.457px;-webkit-text-stroke:0.55px #fff;">Reports overview</div>
<div class="r" style="left:293px;top:746px;width:94.5px;height:25.7px;background:#0a1331;border-radius:4px"></div>
<svg class="r" style="left:299.5px;top:752.5px;" width="12" height="12" viewBox="0 0 12 12"><rect x="1" y="1.4" width="9" height="9" rx="1.5" fill="#AEB9E1"/><rect x="1" y="1.4" width="9" height="2.4" fill="#8a95c0"/></svg>
<div class="t " style="left:312.33px;top:753.00px;font-size:9.3px;line-height:12px;color:#AEB9E1;font-weight:400;letter-spacing:-0.025px;">Select date</div>
<svg class="r" style="left:369.5px;top:755px;" width="10" height="7" viewBox="0 0 10 7"><path d="M2.4,2 L5,4.4 L7.6,2" stroke="#AEB9E1" stroke-width="1" fill="none" stroke-linecap="round" stroke-linejoin="round"/></svg>
<div class="r" style="left:1012px;top:746px;width:85px;height:25px;background:#0A1330;border-radius:4px"></div>
<div class="t " style="left:1018.62px;top:751.00px;font-size:11px;line-height:14px;color:#fff;font-weight:400;letter-spacing:0.076px;">Export data</div>
<svg class="r" style="left:1080px;top:753px;" width="12" height="12" viewBox="0 0 12 12"><path d="M5.5,0.8 V10 M1.5,6.2 L5.5,10.2 L9.5,6.2" stroke="#fff" stroke-width="1.3" fill="none" stroke-linecap="round" stroke-linejoin="round"/></svg>
<div class="r" style="left:1107px;top:746px;width:80px;height:25.5px;background:#CB3CFF;border-radius:4px"></div>
<div class="t " style="left:1113.45px;top:751.00px;font-size:11px;line-height:14px;color:#fff;font-weight:400;letter-spacing:0.063px;">Create report</div>
<div class="r" style="left:292px;top:792px;width:895px;height:10px;background:#0a1535;border-radius:10px 10px 0 0"></div>
<div class="r" style="left:1227px;top:0px;width:1px;height:793px;background:#04070f"></div>
<div class="r" style="left:1227px;top:0px;width:1px;height:35px;background:#000"></div>
</div></body></html>
